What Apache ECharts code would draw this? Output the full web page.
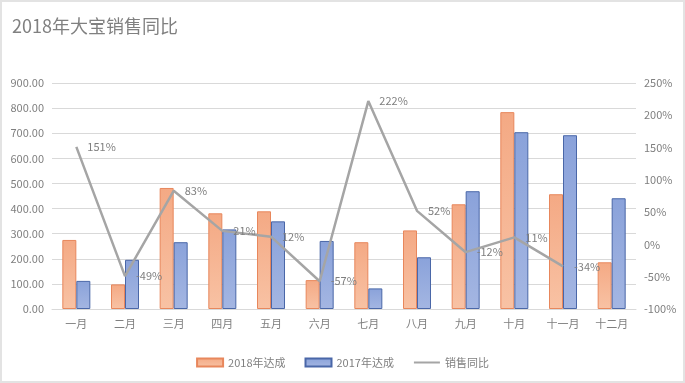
<!DOCTYPE html>
<html><head><meta charset="utf-8">
<script src="https://cdn.jsdelivr.net/npm/echarts@6/dist/echarts.min.js"></script>
<style>html,body{margin:0;padding:0;background:#fff}#c{width:685px;height:383px;box-sizing:border-box;border:2px solid #e3e3e3}</style>
</head><body><div id="c"></div>
<script>
var months = ['一月','二月','三月','四月','五月','六月','七月','八月','九月','十月','十一月','十二月'];
var sales2018 = [275, 98, 482, 381, 389, 115, 266, 313, 417, 784, 457, 186];
var sales2017 = [112, 196, 266, 317, 349, 271, 82, 206, 469, 704, 692, 441];
var yoy = [151, -49, 83, 21, 12, -57, 222, 52, -12, 11, -34, null];
var leftTicks = {min: 0, max: 900, interval: 100};
var rightTicks = {min: -100, max: 250, interval: 50};

var chart = echarts.init(document.getElementById('c'));
var txt = '#7f7f7f';
var font = '"Noto Sans CJK SC", "Noto Sans", sans-serif';
chart.setOption({
  animation: false,
  textStyle: {fontFamily: font},
  title: {text: '2018年大宝销售同比', left: 5, top: 10,
    textStyle: {fontSize: 18, fontWeight: 'normal', color: '#808080', fontFamily: font}},
  legend: {bottom: 8, left: 'center', itemWidth: 26, itemHeight: 8, itemGap: 19,
    textStyle: {fontSize: 11, color: txt},
    data: [{name: '2018年达成', icon: 'rect'}, {name: '2017年达成', icon: 'rect'}, {name: '销售同比'}]},
  grid: {left: 50, right: 47, top: 81, bottom: 72},
  xAxis: {type: 'category', data: months,
    axisLine: {lineStyle: {color: '#d9d9d9'}}, axisTick: {show: false},
    axisLabel: {color: txt, fontSize: 11, margin: 9}},
  yAxis: [
    {type: 'value', min: leftTicks.min, max: leftTicks.max, interval: leftTicks.interval,
      axisLabel: {color: txt, fontSize: 11, formatter: function(v){return v.toFixed(2);}},
      splitLine: {lineStyle: {color: '#d9d9d9'}}, axisLine: {show: false}, axisTick: {show: false}},
    {type: 'value', min: rightTicks.min, max: rightTicks.max, interval: rightTicks.interval,
      axisLabel: {color: txt, fontSize: 11, formatter: '{value}%'},
      splitLine: {show: false}, axisLine: {show: false}, axisTick: {show: false}}
  ],
  series: [
    {name: '2018年达成', type: 'bar', data: sales2018, barWidth: 14, barGap: '0%',
      itemStyle: {color: new echarts.graphic.LinearGradient(0,0,0,1,[{offset:0,color:'#f4a984'},{offset:1,color:'#f8c2a4'}]),
        borderColor: '#e8875c', borderWidth: 1}},
    {name: '2017年达成', type: 'bar', data: sales2017, barWidth: 14,
      itemStyle: {color: new echarts.graphic.LinearGradient(0,0,0,1,[{offset:0,color:'#8aa2da'},{offset:1,color:'#a4b6e2'}]),
        borderColor: '#4a67a8', borderWidth: 1}},
    {name: '销售同比', type: 'line', yAxisIndex: 1, data: yoy, symbol: 'circle', symbolSize: 2, showSymbol: true,
      lineStyle: {color: '#a5a5a5', width: 2.5}, itemStyle: {color: 'rgba(0,0,0,0)', borderWidth: 0},
      label: {show: true, position: 'right', distance: 10, color: '#7f7f7f', fontSize: 11,
        formatter: function(p){return p.value + '%';}}}
  ]
});
</script></body></html>
